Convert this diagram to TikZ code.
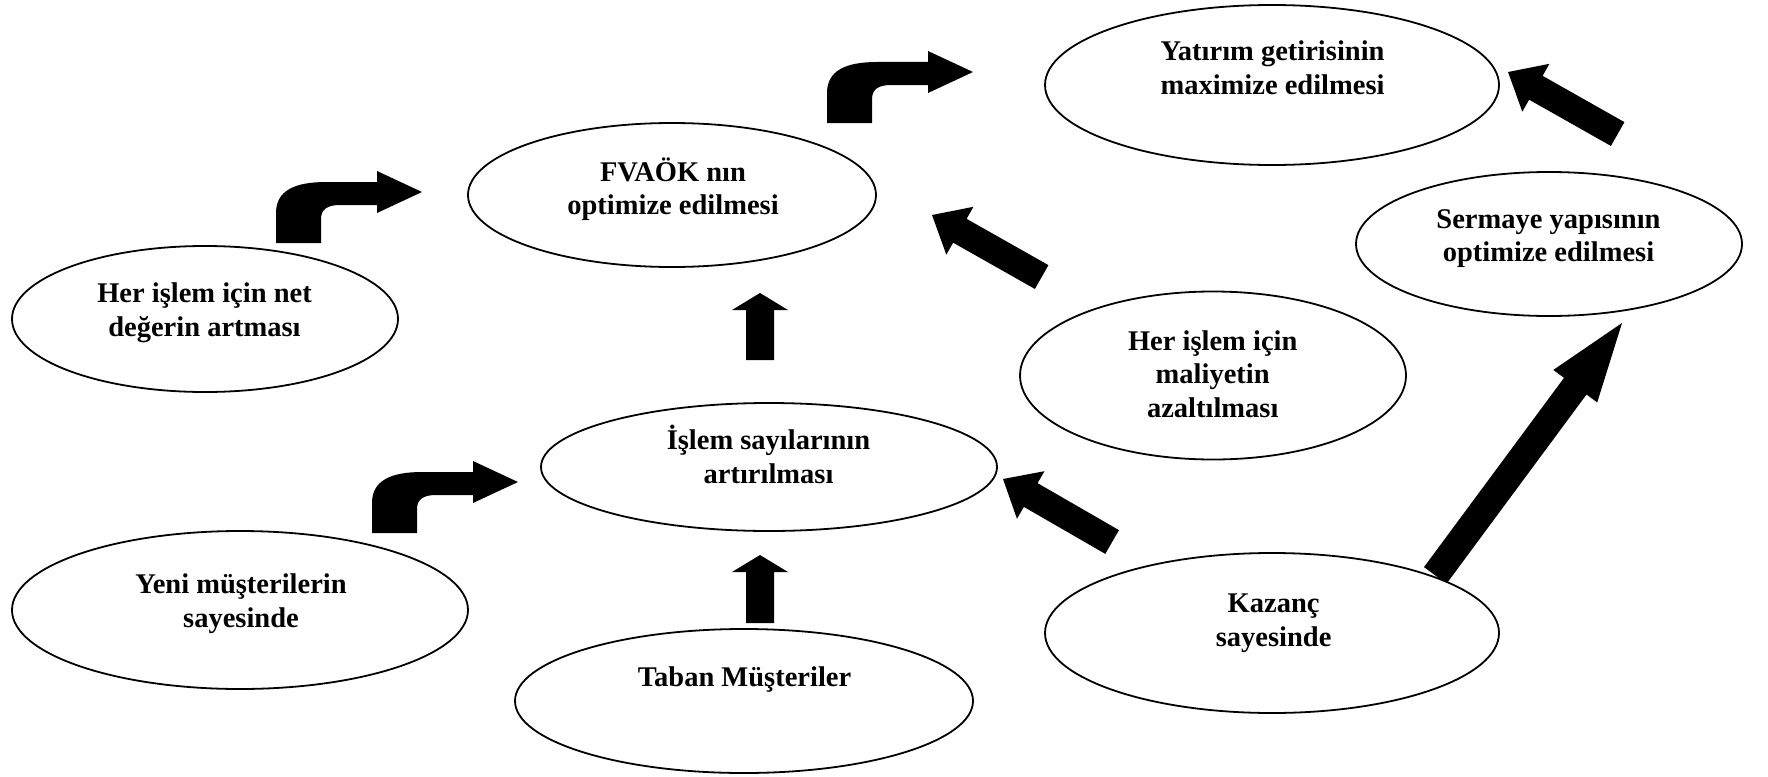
\documentclass[tikz,border=0pt]{standalone}
\usepackage{fontspec}
\setmainfont{Liberation Serif}
\usetikzlibrary{shapes.geometric}

% Straight block arrow.
% #1 tip, #2 direction from tip to tail (degrees), #3 total length,
% #4 head length, #5 head half width, #6 shaft half width
\newcommand{\StraightArrow}[6]{%
  \fill[shift={#1}, rotate=#2] (0,0) -- (#4,-#5) -- (#4,-#6) -- (#3,-#6)
    -- (#3,#6) -- (#4,#6) -- (#4,#5) -- cycle;}

% Bent-up arrow turning to the right; #1 is the lower left corner of its stem
\newcommand{\BentArrow}[1]{%
  \fill[shift={#1}] (0,0) -- (0,-30) .. controls (0,-52) and (18,-61) .. (50,-61)
    -- (101,-61) -- (101,-72) -- (146,-51) -- (101,-30) -- (101,-38) -- (64,-38)
    .. controls (52,-38) and (45,-34) .. (45,-24) -- (45,0) -- cycle;}

\begin{document}
\begin{tikzpicture}[x=1pt, y=-1pt,
  bubble/.style={ellipse, draw, line width=1.8pt, fill=white, inner sep=0pt},
  caption/.style={font=\bfseries\fontsize{28.5}{33.5}\selectfont, align=center, inner sep=0pt},
]
\useasboundingbox (0,0) rectangle (1768,776);

% block arrows
\BentArrow{(276,243)}
\BentArrow{(827,123)}
\BentArrow{(372,533)}
\StraightArrow{(932,215)}{-29.5}{126}{32}{27.5}{13.7}
\StraightArrow{(1508,72)}{-29.5}{126}{32}{27.5}{13.7}
\StraightArrow{(1003,479)}{-30}{126}{32}{27.5}{13.7}
\StraightArrow{(760,293)}{-90}{67}{17}{28}{14}
\StraightArrow{(760,555)}{-90}{68}{17}{28}{14}
\StraightArrow{(1622,323)}{-126.5}{314}{78.6}{27.3}{14}

% ellipses
\node[bubble, minimum width=454pt, minimum height=160pt] (yat) at (1272,85) {};
\node[bubble, minimum width=408pt, minimum height=144pt] (fva) at (672,195) {};
\node[bubble, minimum width=386pt, minimum height=144pt] (ser) at (1549,244) {};
\node[bubble, minimum width=386pt, minimum height=146pt] (net) at (205,319) {};
\node[bubble, minimum width=386pt, minimum height=168pt] (mal) at (1213,375.5) {};
\node[bubble, minimum width=456pt, minimum height=128pt] (isl) at (769,467) {};
\node[bubble, minimum width=456pt, minimum height=158pt] (yen) at (240,610) {};
\node[bubble, minimum width=454pt, minimum height=160pt] (kaz) at (1272,633) {};
\node[bubble, minimum width=458pt, minimum height=144pt] (tab) at (744,701) {};

% captions
\node[caption] (yat-t) at (1272.5,70.6) {\strut Yatırım getirisinin\\\strut maximize edilmesi};
\node[caption] (fva-t) at (673,191.3) {\strut FVAÖK nın\\\strut optimize edilmesi};
\node[caption] (ser-t) at (1548.5,238.3) {\strut Sermaye yapısının\\\strut optimize edilmesi};
\node[caption] (net-t) at (204.5,312.7) {\strut Her işlem için net\\\strut değerin artması};
\node[caption] (mal-t) at (1212.7,377) {\strut Her işlem için\\\strut maliyetin\\\strut azaltılması};
\node[caption] (isl-t) at (768.5,459.1) {\strut İşlem sayılarının\\\strut artırılması};
\node[caption] (yen-t) at (241,603.6) {\strut Yeni müşterilerin\\\strut sayesinde};
\node[caption] (kaz-t) at (1273.6,622.6) {\strut Kazanç\\\strut sayesinde};
\node[caption] (tab-t) at (744.5,679.3) {\strut Taban Müşteriler};
\end{tikzpicture}
\end{document}
